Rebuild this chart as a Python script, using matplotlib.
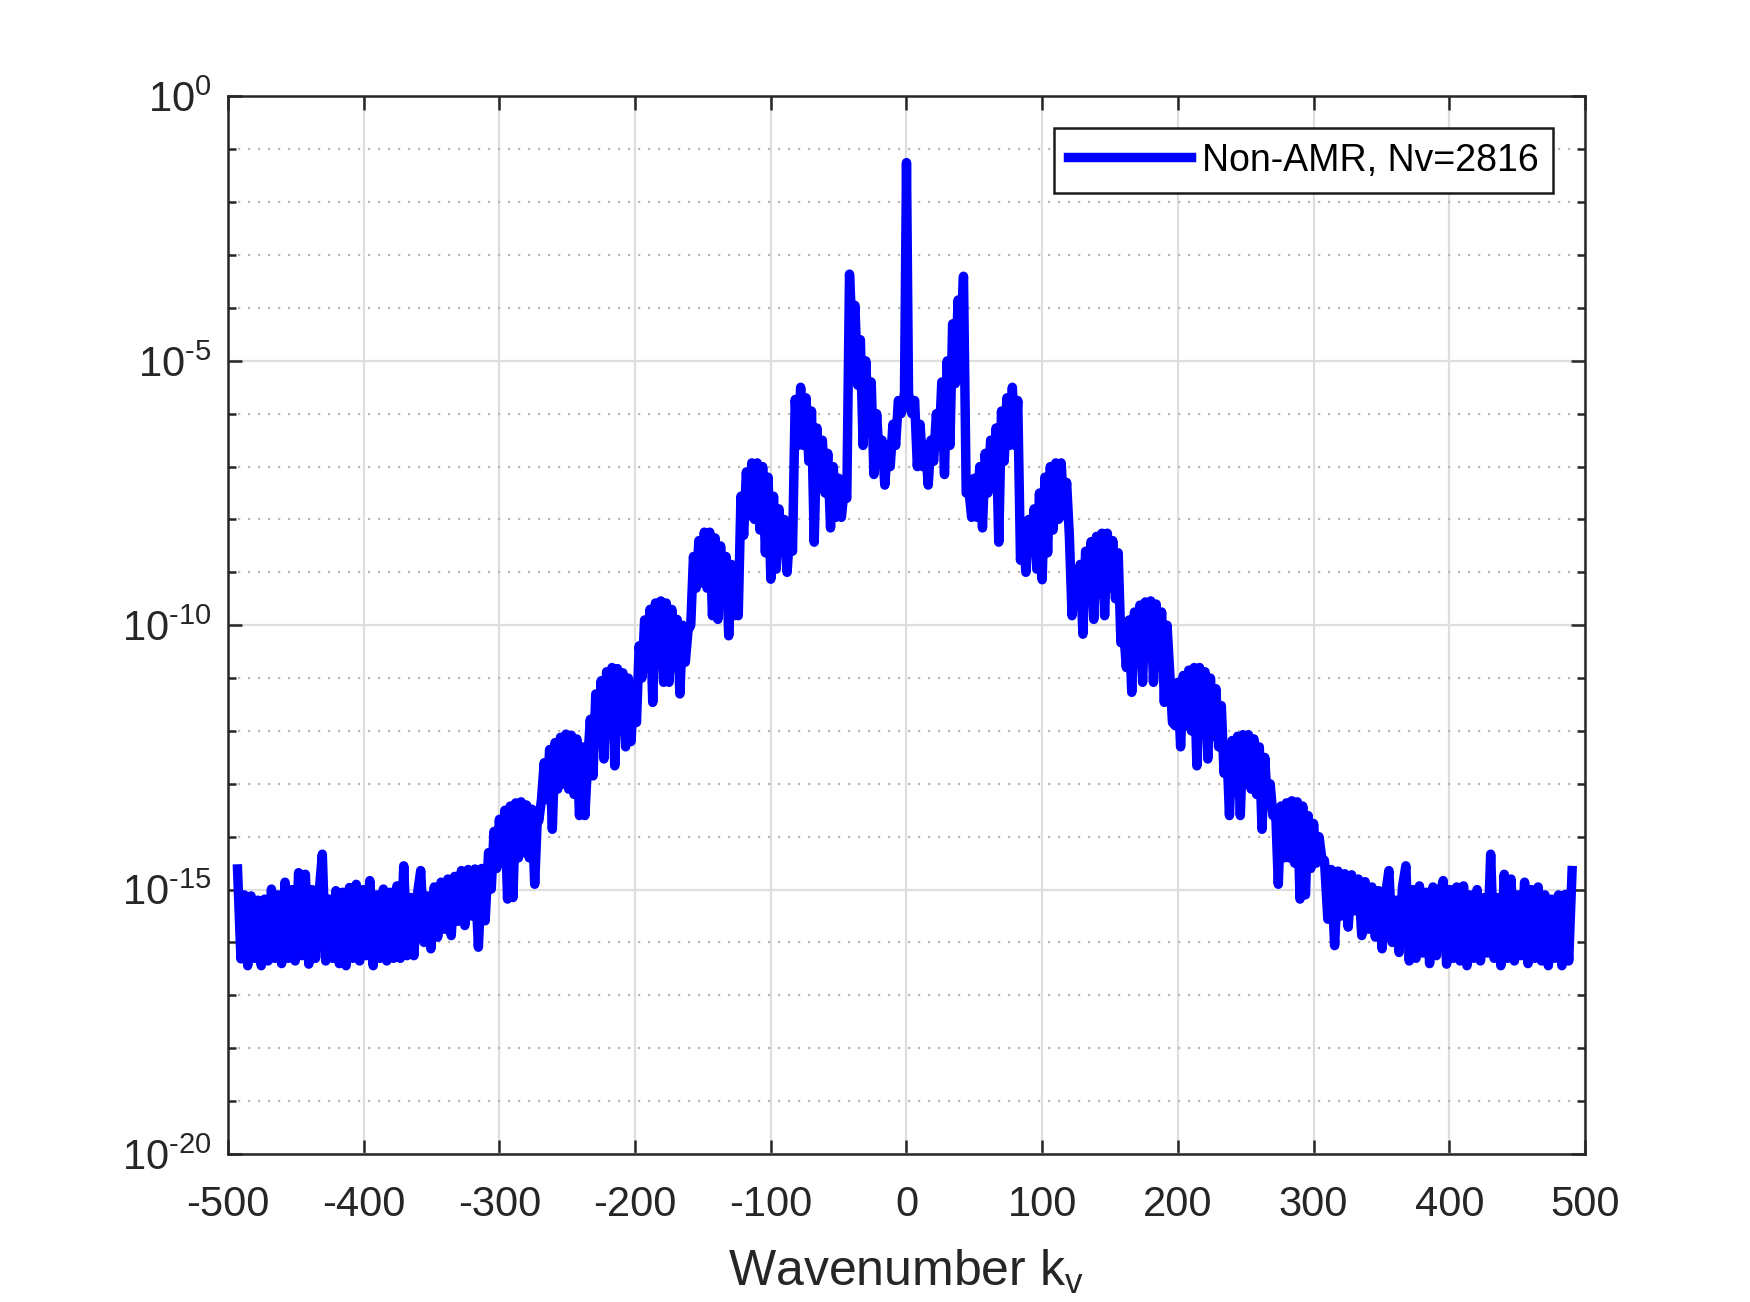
import numpy as np
import matplotlib
matplotlib.use('Agg')
import matplotlib.pyplot as plt
from matplotlib.ticker import FixedLocator, NullFormatter

plt.rcParams['font.family'] = ['Liberation Sans', 'DejaVu Sans']
plt.rcParams['axes.unicode_minus'] = False
plt.rcParams['mathtext.fontset'] = 'custom'
plt.rcParams['mathtext.rm'] = 'Liberation Sans'
plt.rcParams['mathtext.it'] = 'Liberation Sans'
plt.rcParams['path.simplify'] = False  # keep every zigzag of the spectrum

# spectrum, as log10(|f|), one segment per lobe
lg_floor_left = [-14.61, -16.31, -15.1, -16.44, -15.12, -16.3, -15.2, -16.44, -15.18, -16.35,
                 -14.99, -16.3, -15.1, -16.4, -14.86, -16.3, -15.0, -16.35, -14.68, -16.25,
                 -14.71, -16.41, -15.0, -16.3, -15.1, -14.33, -16.35, -15.18, -16.3, -15.02,
                 -16.4, -15.05, -16.44, -14.96, -16.3, -14.9, -16.35, -15.0, -16.25, -14.83,
                 -16.44, -15.1, -16.3, -14.99, -16.35, -15.05, -16.3, -14.93, -16.3, -14.55,
                 -16.25, -15.15, -16.25, -15.1, -14.64, -16.0, -15.12, -16.12, -14.95, -15.9,
                 -14.86, -15.75, -14.8, -15.87, -14.75, -15.6, -14.64, -15.68, -14.62, -15.5,
                 -14.61, -16.09, -14.6, -15.59]
lg_lobe_l285 = [-14.3, -14.99, -13.9, -14.6, -13.67, -14.5, -13.5, -15.18, -13.42, -15.15,
                -13.36, -14.4, -13.34, -14.3, -13.4, -14.4, -13.48, -14.9, -13.6]
lg_lobe_l250 = [-13.7, -13.3, -12.6, -13.3, -12.35, -13.86, -12.22, -13.1, -12.12, -13.0,
                -12.06, -13.1, -12.08, -13.2, -12.15, -13.6, -12.3, -13.6, -12.6]
lg_lobe_l216 = [-11.78, -12.85, -11.3, -12.0, -11.05, -12.53, -10.88, -11.9, -10.8, -12.66,
                -10.82, -12.0, -10.9, -12.3, -11.0, -12.2, -11.21]
lg_lobe_l182 = [-11.84, -10.39, -11.0, -9.9, -10.8, -9.7, -11.46, -9.58, -10.6, -9.54,
                -11.08, -9.58, -11.08, -9.7, -10.8, -9.89, -11.3, -10.0, -10.7]
lg_lobe_l147 = [-10.1, -10.0, -8.7, -9.3, -8.4, -9.2, -8.24, -9.3, -8.24, -9.82,
                -8.35, -9.89, -8.5, -9.6, -8.7, -10.2, -8.85, -9.82, -9.07]
lg_lobe_l113 = [-9.82, -7.56, -8.3, -7.1, -7.93, -6.93, -8.0, -6.93, -8.2, -7.0,
                -8.63, -7.2, -9.13, -7.56, -8.94, -7.8, -8.6, -8.0, -9.0, -8.2]
lg_lobe_l80 = [-8.6, -5.73, -6.6, -5.5, -6.6, -5.7, -6.9, -5.95, -8.43, -6.27,
               -7.3, -6.5, -7.5, -6.75, -8.16, -7.0, -7.96, -7.22, -7.96, -7.45]
lg_lobe_l40 = [-7.6, -3.36, -4.5, -3.95, -5.46, -4.6, -6.6, -5.0, -6.3, -5.4,
               -7.15, -6.0, -6.9, -6.5, -7.35, -6.6, -7.0, -6.2, -6.6, -5.75, -6.0]
kv_center = [-3, -1.5, -0.7, 0, 0.7, 1.5, 3]
lg_center = [-5.9, -5.6, -3.3, -1.25, -3.3, -5.6, -5.9]
lg_lobe_r40 = [-6.0, -5.75, -7.0, -6.2, -7.0, -6.6, -7.35, -6.5, -6.9, -6.0,
               -6.6, -5.4, -7.15, -5.0, -6.6, -4.3, -5.43, -3.85, -4.5, -3.4, -7.5]
lg_lobe_r80 = [-7.45, -7.96, -7.22, -7.96, -7.0, -8.16, -6.75, -7.5, -6.5, -7.3,
               -6.27, -8.43, -5.95, -6.9, -5.7, -6.6, -5.5, -6.6, -5.75, -8.77]
lg_lobe_r113 = [-8.2, -9.0, -8.0, -8.6, -7.8, -8.94, -7.5, -9.14, -7.2, -8.63,
                -7.0, -8.2, -6.93, -8.0, -6.93, -7.93, -7.3, -8.3, -9.82]
lg_lobe_r147 = [-9.13, -9.4, -8.85, -10.17, -8.6, -9.5, -8.42, -9.89, -8.32, -9.4,
                -8.26, -9.82, -8.26, -9.3, -8.4, -9.5, -8.63, -10.33]
lg_lobe_r182 = [-10.07, -10.8, -9.9, -11.27, -9.75, -10.7, -9.62, -11.08, -9.56, -10.6,
                -9.54, -11.08, -9.6, -10.7, -9.75, -11.46, -10.0, -10.9, -11.84]
lg_lobe_r215 = [-11.9, -11.08, -12.3, -10.95, -11.9, -10.85, -12.0, -10.8, -12.66, -10.8,
                -12.0, -10.88, -12.53, -11.0, -12.1, -11.2, -12.3, -11.52, -12.8]
lg_lobe_r250 = [-12.28, -13.6, -12.18, -13.1, -12.1, -13.6, -12.07, -13.0, -12.07, -13.1,
                -12.15, -13.2, -12.3, -13.86, -12.5, -13.4, -13.0, -13.6]
lg_lobe_r285 = [-13.48, -14.9, -13.42, -14.4, -13.36, -14.4, -13.32, -14.5, -13.34, -15.18,
                -13.42, -15.1, -13.6, -14.6, -13.75, -14.5, -14.0, -14.4]
lg_floor_right = [-14.45, -15.56, -14.62, -16.06, -14.65, -15.5, -14.7, -15.71, -14.72, -15.4,
                  -14.8, -15.87, -14.85, -15.75, -14.95, -15.9, -15.02, -16.12, -15.1, -14.64,
                  -16.0, -15.2, -16.19, -14.95, -14.55, -16.35, -15.0, -16.3, -14.93, -16.2,
                  -15.05, -16.4, -14.95, -16.25, -15.1, -14.83, -16.41, -15.0, -16.3, -14.95,
                  -16.35, -14.93, -16.44, -15.1, -16.3, -15.0, -16.35, -15.15, -16.2, -14.33,
                  -16.3, -15.15, -16.44, -14.71, -16.3, -14.8, -16.35, -15.1, -16.25, -14.86,
                  -16.4, -15.0, -16.3, -14.95, -16.35, -15.1, -16.44, -15.18, -16.3, -15.1,
                  -16.44, -15.09, -16.35, -14.64]

# (first kv, last kv, values) for each segment
segments = [
    (-493, -310.5, lg_floor_left),
    (-308, -272, lg_lobe_l285),
    (-271, -235, lg_lobe_l250),
    (-233, -201, lg_lobe_l216),
    (-199, -163, lg_lobe_l182),
    (-161, -125, lg_lobe_l147),
    (-124, -86, lg_lobe_l113),
    (-84, -46, lg_lobe_l80),
    (-44, -4, lg_lobe_l40),
    (None, None, lg_center),
    (4, 44, lg_lobe_r40),
    (46, 84, lg_lobe_r80),
    (86, 122, lg_lobe_r113),
    (124, 158, lg_lobe_r147),
    (160, 196, lg_lobe_r182),
    (198, 234, lg_lobe_r215),
    (236, 270, lg_lobe_r250),
    (272, 306, lg_lobe_r285),
    (308, 490.5, lg_floor_right),
]

kv_parts, lg_parts = [], []
for a, b, vals in segments:
    if a is None:
        kv_parts.append(np.array(kv_center, dtype=float))
    else:
        kv_parts.append(np.linspace(a, b, len(vals)))
    lg_parts.append(np.array(vals, dtype=float))
kv = np.concatenate(kv_parts)
spec = 10.0 ** np.concatenate(lg_parts)

ytick_vals = [1e-20, 1e-15, 1e-10, 1e-5, 1e0]
ytick_labels = [r'$\mathregular{10^{\text{-20}}}$', r'$\mathregular{10^{\text{-15}}}$',
                r'$\mathregular{10^{\text{-10}}}$', r'$\mathregular{10^{\text{-5}}}$',
                r'$\mathregular{10^{0}}$']

fig = plt.figure(figsize=(8.75, 6.51), dpi=200)
ax = fig.add_axes([0.1303, 0.1137, 0.7754, 0.8122])

ax.semilogy(kv, spec, color=(0, 0, 1), lw=3.4, solid_joinstyle='round',
            label='Non-AMR, Nv=2816')

ax.set_xlim(-500, 500)
ax.set_ylim(1e-20, 1)
ax.set_xticks(range(-500, 501, 100))
ax.yaxis.set_major_locator(FixedLocator(ytick_vals))
ax.yaxis.set_minor_locator(FixedLocator([10.0 ** -k for k in range(1, 20) if k % 5]))
ax.yaxis.set_minor_formatter(NullFormatter())
ax.set_yticklabels(ytick_labels)

dark = '#262626'
ax.tick_params(which='both', direction='in', top=True, right=True, color=dark, width=0.9)
ax.tick_params(which='major', length=5, labelsize=15, labelcolor=dark)
ax.tick_params(axis='x', which='major', pad=11)
ax.tick_params(axis='y', which='major', pad=6)
ax.tick_params(which='minor', length=2.8)
for sp in ax.spines.values():
    sp.set_color(dark)
    sp.set_linewidth(0.9)

ax.grid(which='major', color='#dedede', lw=0.8, ls='-')
ax.yaxis.grid(which='minor', color='#b8b8b8', lw=0.8, ls=(0, (1, 3.5)))
ax.set_axisbelow(True)

ax.set_xlabel(r'Wavenumber k$_{\mathregular{v}}$', fontsize=18, color=dark, labelpad=8.5)

leg = ax.legend(loc='upper right', fontsize=13.5, fancybox=False, framealpha=1,
                edgecolor='#1a1a1a', handlelength=3.28, handletextpad=0.3,
                borderaxespad=0.85, borderpad=0.38)
leg.get_frame().set_linewidth(0.9)

fig.savefig('out.png', dpi=200)
